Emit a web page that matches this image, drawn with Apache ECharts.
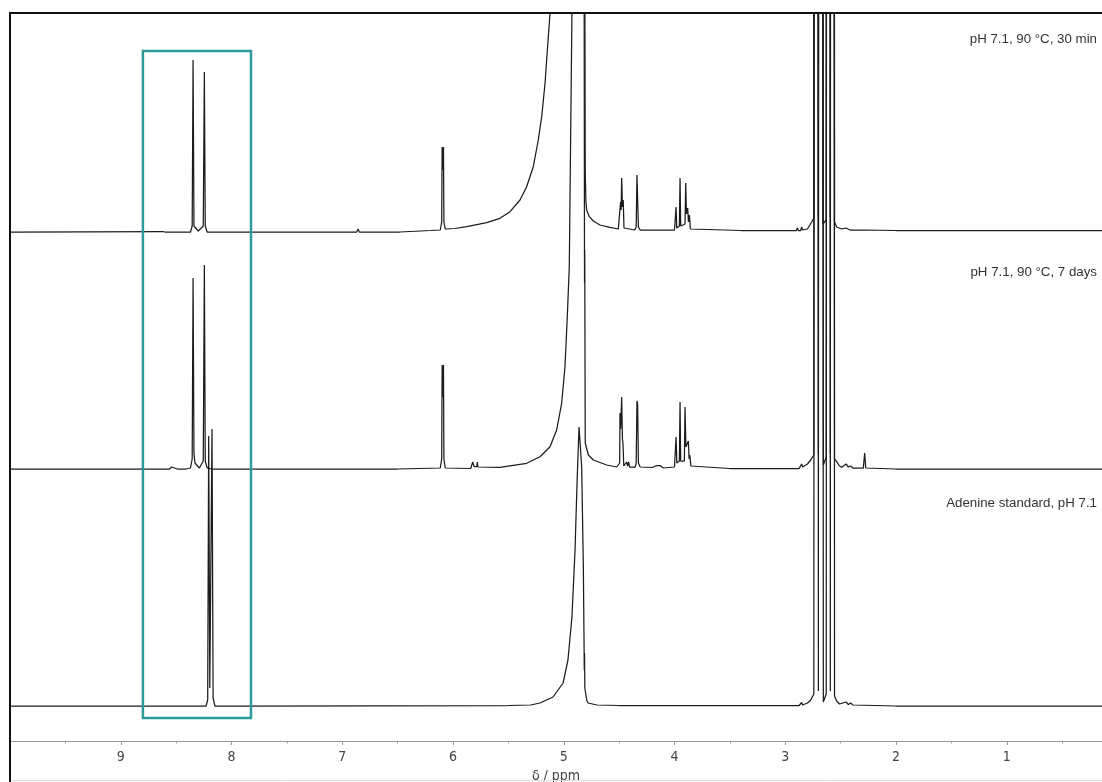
<!DOCTYPE html>
<html>
<head>
<meta charset="utf-8">
<script src="https://cdn.jsdelivr.net/npm/echarts@6/dist/echarts.min.js"></script>
<style>
  html, body { margin: 0; padding: 0; background: #fff; }
  #chart { width: 1102px; height: 782px; }
</style>
</head>
<body>
<div id="chart"></div>
<script>
// chemical shift axis (ppm, drawn right to left)
const ppmRange = [0.14, 10.0];
const majorTicks = [1, 2, 3, 4, 5, 6, 7, 8, 9];
const minorTicks = [0.5, 1.5, 2.5, 3.5, 4.5, 5.5, 6.5, 7.5, 8.5, 9.5];

const traceNames = ['pH 7.1, 90 °C, 30 min', 'pH 7.1, 90 °C, 7 days', 'Adenine standard, pH 7.1'];
// vertical offset of each trace baseline (same intensity units as the traces)
const traceOffsets = [509, 272, 35];

// [ppm, intensity above own baseline]; values above the frame are clipped
const trace30min = [
  [10.0, 0], [8.62, 0.5], [8.60, 0],
  [8.37, 0], [8.355, 6], [8.347, 172], [8.339, 6], [8.30, 1], [8.255, 6], [8.245, 160], [8.237, 6], [8.22, 0],
  [7.0, 0], [6.87, 0], [6.858, 3], [6.845, 0],
  [6.48, 0], [6.2, 1.5], [6.115, 2], [6.102, 10], [6.098, 85], [6.092, 62], [6.086, 85], [6.082, 10], [6.07, 3],
  [5.98, 3.5], [5.876, 5.3], [5.696, 9.3], [5.576, 13.7], [5.485, 20.3], [5.395, 32], [5.335, 45.3],
  [5.275, 65.3], [5.230, 92], [5.199, 115.3], [5.169, 148.7], [5.148, 182], [5.124, 218.7], [5.10, 400], [4.95, 3000],
  [4.812, 400], [4.806, 60], [4.800, 30], [4.793, 22], [4.769, 15.3], [4.733, 11], [4.673, 7], [4.582, 4.7], [4.507, 3],
  [4.50, 3], [4.492, 5], [4.487, 30], [4.482, 22], [4.477, 54], [4.470, 25], [4.463, 32], [4.456, 4], [4.44, 2.5],
  [4.36, 2], [4.346, 5], [4.339, 57], [4.333, 55], [4.326, 5], [4.31, 2],
  [4.00, 2], [3.992, 3], [3.986, 25], [3.980, 4], [3.956, 6], [3.950, 54], [3.944, 6], [3.932, 4], [3.905, 8],
  [3.899, 49], [3.892, 18], [3.881, 24], [3.874, 10], [3.865, 17], [3.857, 3], [3.84, 2],
  [3.4, 1.5], [2.90, 1.5], [2.891, 4], [2.882, 1.5], [2.860, 1.5], [2.852, 5], [2.843, 2],
  [2.80, 3], [2.761, 10], [2.742, 14], [2.732, 3000], [2.710, 3000], [2.701, 15], [2.693, 3000], [2.671, 3000], [2.66, 8],
  [2.630, 12], [2.621, 3000], [2.599, 3000], [2.593, 15], [2.587, 3000], [2.565, 3000], [2.555, 10],
  [2.536, 5], [2.490, 3], [2.452, 4], [2.415, 2], [2.289, 2], [2.0, 1.5], [1.0, 1.5], [0.14, 1.5]
];

const trace7days = [
  [10.0, 0], [8.56, 0], [8.54, 2], [8.53, 0], [8.49, 0], [8.48, 1.5], [8.47, 0], [8.41, 0], [8.405, 2], [8.40, 0],
  [8.37, 1], [8.355, 10], [8.347, 191], [8.339, 16], [8.33, 6], [8.29, 1], [8.255, 8], [8.245, 204], [8.237, 8], [8.22, 1],
  [8.178, 0], [8.173, 2], [8.165, 0], [8.045, 0], [8.038, 2], [8.03, 0],
  [6.5, 0], [6.115, 1], [6.102, 10], [6.098, 104], [6.092, 72], [6.086, 104], [6.082, 10], [6.07, 1],
  [5.84, 0.5], [5.826, 2], [5.822, 7], [5.81, 2.5], [5.800, 2], [5.785, 2.5], [5.781, 7], [5.775, 2], [5.76, 1],
  [5.576, 1.7], [5.335, 5.7], [5.214, 12.3], [5.124, 22.3], [5.064, 39], [5.019, 65.7], [4.989, 102.3],
  [4.968, 152.3], [4.950, 202.3], [4.926, 457], [4.90, 1000], [4.87, 3000],
  [4.816, 500], [4.8125, 186], [4.8105, 219], [4.806, 26], [4.778, 14], [4.733, 9], [4.612, 4], [4.522, 2],
  [4.505, 2], [4.495, 6], [4.492, 56], [4.486, 40], [4.477, 72], [4.470, 30], [4.465, 25], [4.458, 3],
  [4.44, 2], [4.432, 7], [4.423, 3], [4.414, 7], [4.405, 2],
  [4.355, 2], [4.346, 6], [4.339, 68], [4.333, 65], [4.326, 6], [4.31, 2],
  [4.20, 1.5], [4.161, 3.5], [4.146, 2.5], [4.131, 3.5], [4.10, 1],
  [4.00, 2], [3.992, 4], [3.986, 32], [3.979, 6], [3.956, 8], [3.950, 67], [3.944, 8], [3.926, 6], [3.911, 8],
  [3.905, 62], [3.897, 22], [3.884, 20], [3.875, 28], [3.868, 10], [3.862, 14], [3.852, 3], [3.84, 1.5],
  [3.5, 0.5], [2.90, 0.5], [2.888, 2.3], [2.875, 0.5], [2.860, 1], [2.852, 5], [2.843, 2], [2.80, 5], [2.770, 9],
  [2.742, 14], [2.732, 3000], [2.710, 3000], [2.701, 15], [2.693, 3000], [2.671, 3000], [2.656, 4],
  [2.630, 12], [2.621, 3000], [2.599, 3000], [2.593, 15], [2.587, 3000], [2.565, 3000], [2.555, 10],
  [2.536, 7.3], [2.510, 3], [2.490, 1.7], [2.451, 5], [2.430, 2], [2.409, 3], [2.39, 1],
  [2.295, 1], [2.283, 16], [2.273, 1], [2.0, 0], [1.36, 0], [1.35, 1.5], [1.34, 0], [0.14, 0]
];

const traceAdenine = [
  [10.0, 0], [8.45, 0], [8.44, 1.5], [8.43, 0],
  [8.23, 0], [8.215, 6], [8.206, 270], [8.196, 18], [8.186, 20], [8.176, 277], [8.166, 8], [8.15, 0],
  [7.92, 0], [7.91, 1], [7.90, 0],
  [5.5, 0.5], [5.3, 1], [5.214, 3], [5.097, 9], [5.006, 23], [4.962, 46], [4.926, 89], [4.898, 156], [4.880, 223],
  [4.862, 279], [4.856, 281], [4.838, 239], [4.823, 139], [4.8145, 36], [4.8125, 53], [4.8095, 18], [4.793, 6],
  [4.781, 3], [4.70, 1], [4.5, 0.5],
  [2.90, 0.5], [2.888, 2], [2.875, 0.5], [2.860, 1], [2.852, 3.5], [2.843, 1], [2.80, 3], [2.770, 6],
  [2.742, 12], [2.732, 3000], [2.710, 3000], [2.701, 15], [2.693, 3000], [2.671, 3000], [2.656, 4],
  [2.630, 12], [2.621, 3000], [2.599, 3000], [2.593, 15], [2.587, 3000], [2.565, 3000], [2.555, 10],
  [2.536, 5], [2.51, 2], [2.451, 4], [2.43, 1.5], [2.409, 3], [2.39, 1], [2.0, 0], [0.14, 0]
];

// highlighted aromatic region [ppm from, ppm to], [intensity from, to]
const boxPpm = [8.80, 7.824];
const boxY = [23, 690];

const traces = [trace30min, trace7days, traceAdenine];

const chart = echarts.init(document.getElementById('chart'), null, { renderer: 'canvas' });

const axisFont = '"Liberation Sans Narrow", "DejaVu Sans Condensed", "Liberation Sans", sans-serif';
const labelFont = '13.3px "Liberation Sans", Arial, sans-serif';

const series = traces.map((trace, i) => ({
  type: 'line',
  name: traceNames[i],
  data: trace.map(([x, h]) => [x, h + traceOffsets[i]]),
  showSymbol: false,
  symbol: 'none',
  lineStyle: { color: '#1c1c1c', width: 1.25 },
  z: 3
}));

series[2].markArea = {
  silent: true,
  z: 5,
  itemStyle: { color: 'rgba(0,0,0,0)', borderColor: '#2f9b98', borderWidth: 2.5 },
  data: [[{ coord: [boxPpm[0], boxY[0]] }, { coord: [boxPpm[1], boxY[1]] }]]
};

const option = {
  animation: false,
  backgroundColor: '#fff',
  grid: { left: 10, right: 0, top: 13, bottom: 41, containLabel: false, outerBoundsMode: 'none' },
  xAxis: [
    {
      type: 'value',
      inverse: true,
      min: ppmRange[0],
      max: ppmRange[1],
      position: 'bottom',
      name: 'δ / ppm',
      nameLocation: 'middle',
      nameGap: 25,
      nameTextStyle: { color: '#444', fontSize: 14, fontFamily: axisFont },
      axisLine: { show: true, lineStyle: { color: '#9a9a9a', width: 1 } },
      axisTick: { show: true, customValues: majorTicks, length: 4, lineStyle: { color: '#9a9a9a' } },
      axisLabel: { customValues: majorTicks, color: '#444', fontSize: 14, fontFamily: axisFont, margin: 9 },
      splitLine: { show: false }
    },
    {
      type: 'value',
      inverse: true,
      min: ppmRange[0],
      max: ppmRange[1],
      position: 'bottom',
      axisLine: { show: false },
      axisTick: { show: true, customValues: minorTicks, length: 2.5, lineStyle: { color: '#9a9a9a' } },
      axisLabel: { show: false },
      splitLine: { show: false }
    }
  ],
  yAxis: {
    type: 'value',
    min: 0,
    max: 728,
    show: false,
    splitLine: { show: false }
  },
  graphic: [
    { type: 'line', shape: { x1: 9, y1: 13, x2: 1102, y2: 13 }, style: { stroke: '#111', lineWidth: 2 }, z: 10 },
    { type: 'line', shape: { x1: 10, y1: 12, x2: 10, y2: 782 }, style: { stroke: '#111', lineWidth: 2 }, z: 10 },
    { type: 'line', shape: { x1: 11, y1: 780.5, x2: 1102, y2: 780.5 }, style: { stroke: '#dcdcdc', lineWidth: 1 }, z: 1 },
    { type: 'text', right: 5, top: 33, style: { text: traceNames[0], font: labelFont, fill: '#333' } },
    { type: 'text', right: 5, top: 266, style: { text: traceNames[1], font: labelFont, fill: '#333' } },
    { type: 'text', right: 5, top: 497, style: { text: traceNames[2], font: labelFont, fill: '#333' } }
  ],
  series
};

chart.setOption(option);
</script>
</body>
</html>
